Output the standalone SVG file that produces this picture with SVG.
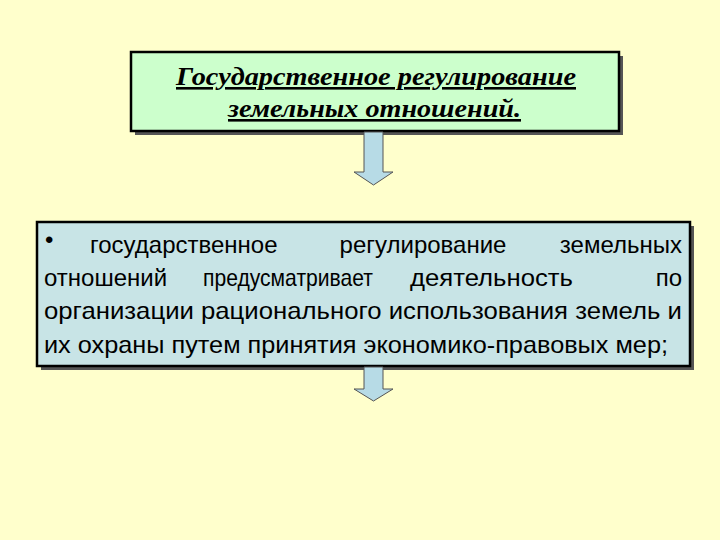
<svg xmlns="http://www.w3.org/2000/svg" width="720" height="540" viewBox="0 0 720 540">
<style>
.box{stroke:#000;stroke-width:2.5}
.sh{fill:#555}
.t1{font-family:"Liberation Serif",serif;font-weight:bold;font-style:italic;font-size:26px;text-decoration:underline;fill:#000}
.t2{font-family:"Liberation Sans",Arial,sans-serif;font-size:24px;fill:#000}
.arr{fill:#B7DBE6;stroke:#555;stroke-width:1}
</style>
<rect width="720" height="540" fill="#FFFFCC"/>
<g id="title">
<rect class="sh" x="135" y="56" width="488" height="79"/>
<rect class="box" x="131" y="52" width="488" height="79" fill="#CCFFCC"/>
<text class="t1" x="176" y="85" textLength="400" lengthAdjust="spacingAndGlyphs">Государственное регулирование</text>
<text class="t1" x="228" y="117" textLength="293" lengthAdjust="spacingAndGlyphs">земельных отношений.</text>
</g>
<g id="desc">
<rect class="sh" x="41" y="226" width="653" height="144"/>
<rect class="box" x="37" y="222" width="653" height="144" fill="#C8E4E6"/>
<text class="t2" x="45" y="248" font-size="8">•</text>
<text class="t2" x="90" y="253">государственное</text>
<text class="t2" x="423" y="253" text-anchor="middle">регулирование</text>
<text class="t2" x="682" y="253" text-anchor="end">земельных</text>
<text class="t2" x="44" y="286">отношений</text>
<text class="t2" x="203" y="286" textLength="170" lengthAdjust="spacingAndGlyphs">предусматривает</text>
<text class="t2" x="410" y="286" textLength="163" lengthAdjust="spacingAndGlyphs">деятельность</text>
<text class="t2" x="682" y="286" text-anchor="end">по</text>
<text class="t2" x="44" y="319" textLength="638" lengthAdjust="spacingAndGlyphs">организации рационального использования земель и</text>
<text class="t2" x="44" y="353" textLength="624" lengthAdjust="spacingAndGlyphs">их охраны путем принятия экономико-правовых мер;</text>
</g>
<g id="connectors">
<path class="arr" d="M364 132 H383 V172 H393 L373.5 185 L354 172 H364 Z"/>
<path class="arr" d="M364 367 H383 V389 H393 L373.5 401 L354 389 H364 Z"/>
</g>
</svg>
